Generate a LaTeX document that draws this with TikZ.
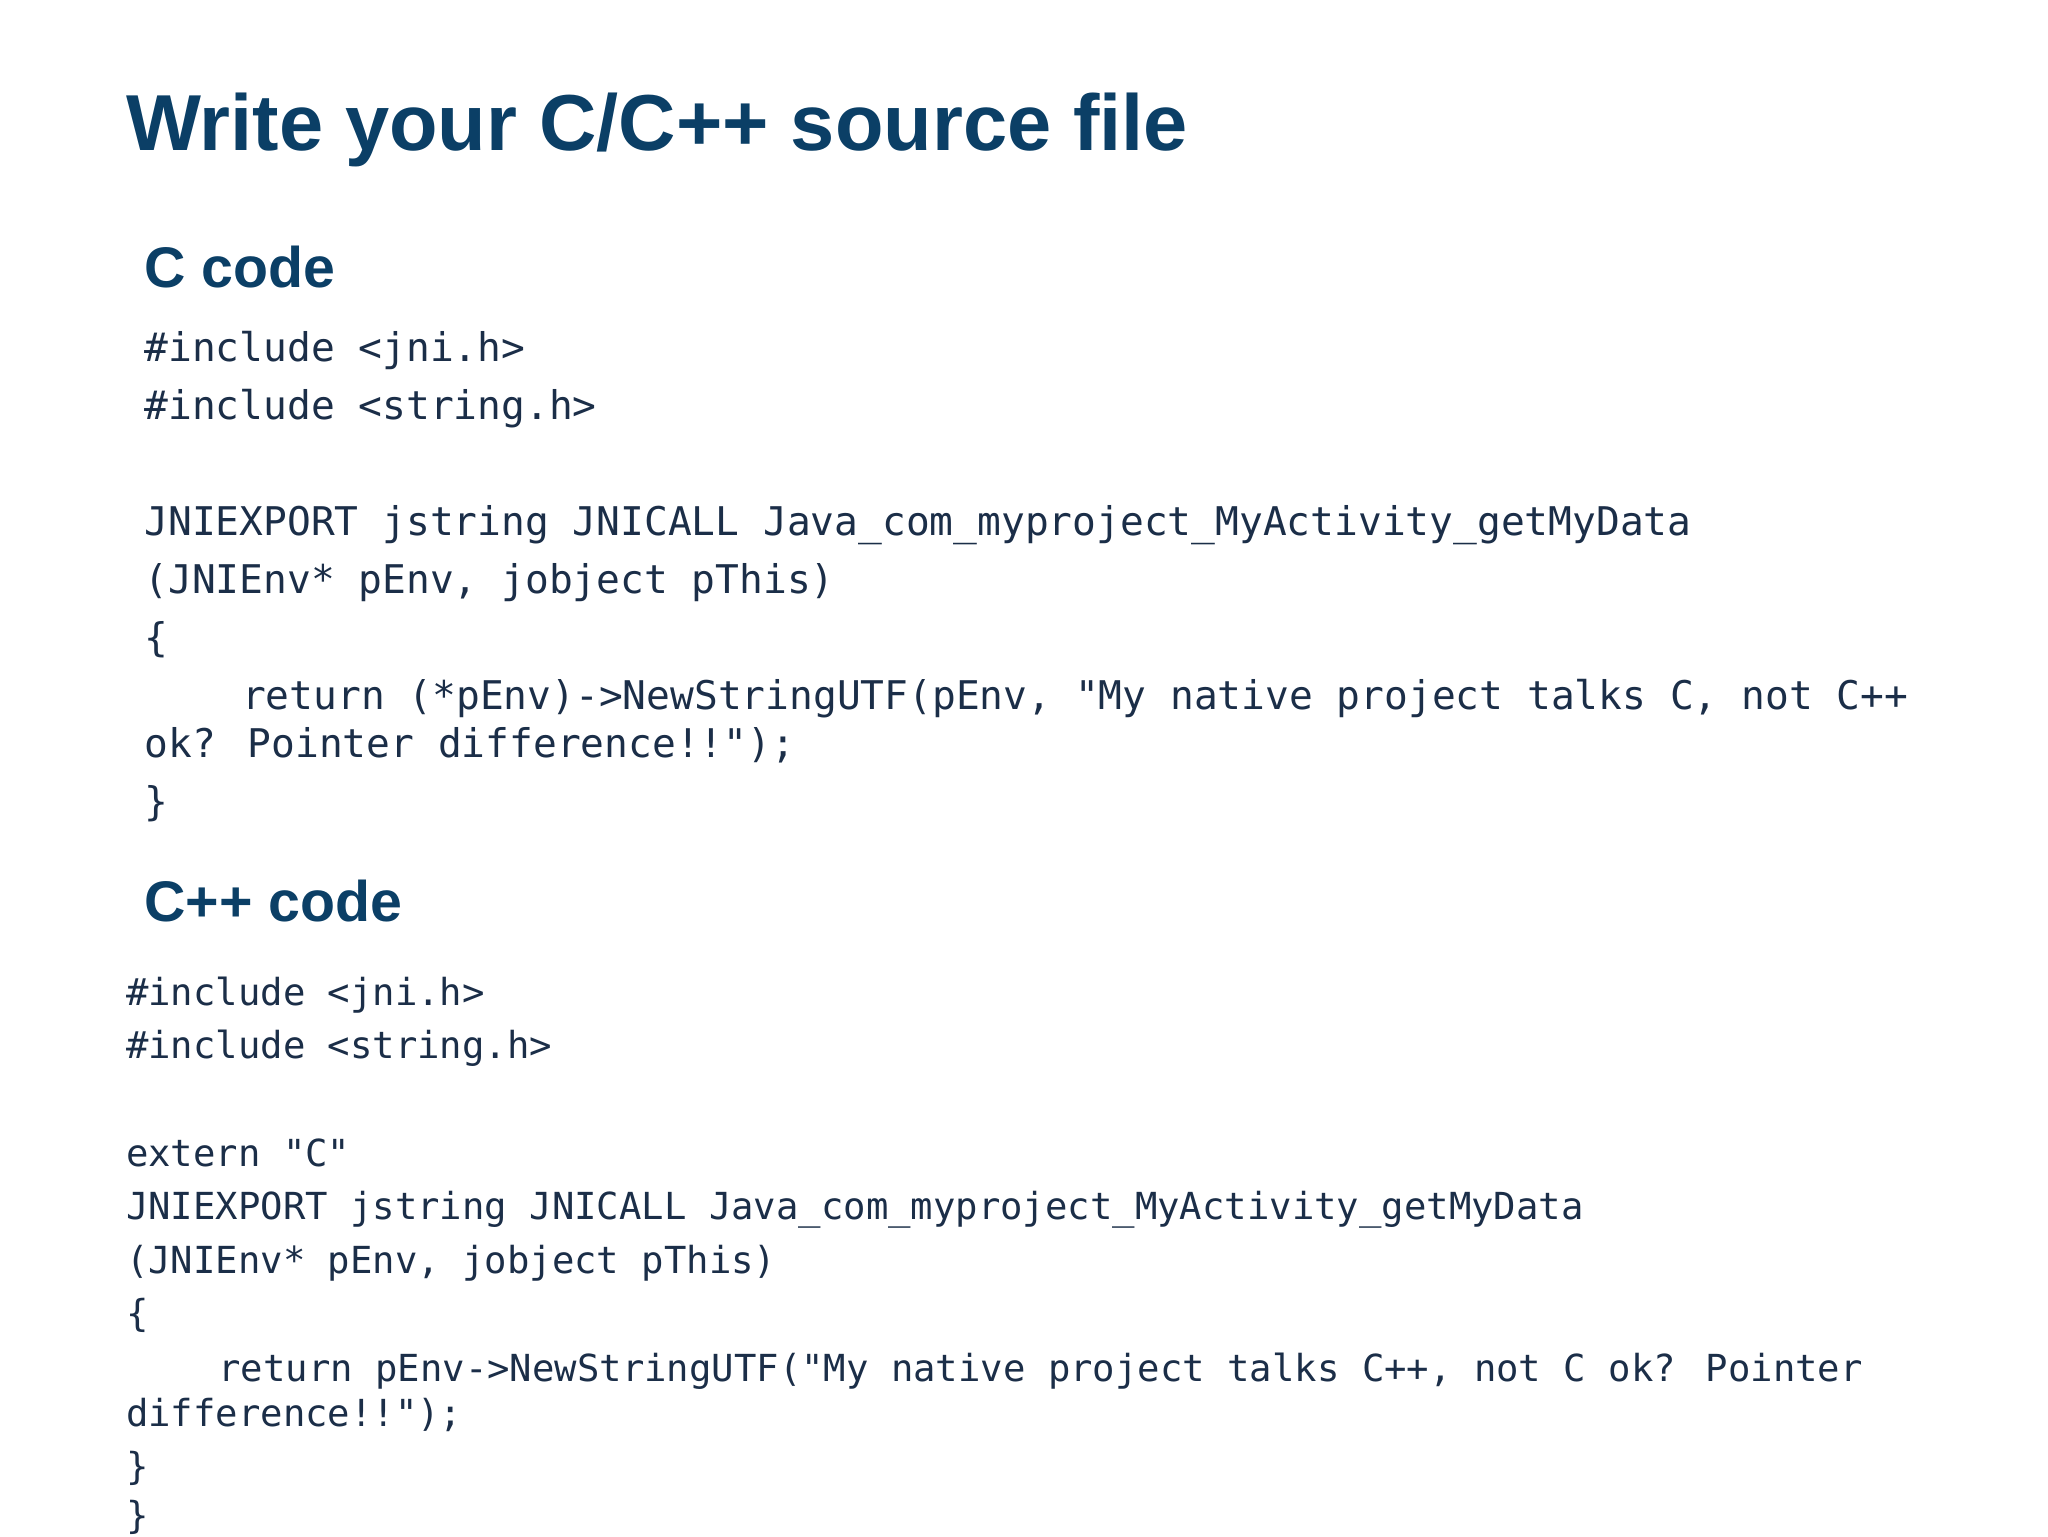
\documentclass[tikz,border=0pt]{standalone}
\usepackage{fontspec}
\setmainfont{Liberation Sans}
\newfontfamily\codefont{DejaVu Sans Mono}
\definecolor{ttl}{HTML}{0B3F66}
\definecolor{cde}{HTML}{1B2E48}
\begin{document}
\begin{tikzpicture}[x=0.013196cm,y=-0.013196cm,
  ttlstyle/.style={anchor=base west,inner sep=0,text=ttl,font=\bfseries\fontsize{22.6}{27}\selectfont},
  hdstyle/.style={anchor=base west,inner sep=0,text=ttl,font=\bfseries\fontsize{16.3}{20}\selectfont},
  ca/.style={anchor=base west,inner sep=0,text=cde,font=\codefont\fontsize{11.25}{13}\selectfont},
  cb/.style={anchor=base west,inner sep=0,text=cde,font=\codefont\fontsize{10.6}{13}\selectfont}]
\useasboundingbox[fill=white] (0,0) rectangle (1552,1164);
\node[ttlstyle] (t) at (95,114) {Write your C/C++ source file};
\node[hdstyle] (h1) at (109,218) {C code};
\node[ca] (a1) at (109,274) {\#include <jni.h>};
\node[ca] (a2) at (109,318) {\#include <string.h>};
\node[ca] (a3) at (109,406) {JNIEXPORT jstring JNICALL Java\_com\_myproject\_MyActivity\_getMyData};
\node[ca] (a4) at (109,450) {(JNIEnv* pEnv, jobject pThis)};
\node[ca] (a5) at (109,494) {\{};
\node[ca] (a6) at (183,538) {return (*pEnv)->NewStringUTF(pEnv, "My native project talks C, not C++};
\node[ca] (a7) at (109,574) {ok? Pointer difference!!");};
\node[ca] (a8) at (109,618) {\}};
\node[hdstyle] (h2) at (109,698) {C++ code};
\node[cb] (b1) at (95,762) {\#include <jni.h>};
\node[cb] (b2) at (95,802) {\#include <string.h>};
\node[cb] (b3) at (95,884) {extern "C"};
\node[cb] (b4) at (95,924) {JNIEXPORT jstring JNICALL Java\_com\_myproject\_MyActivity\_getMyData};
\node[cb] (b5) at (95,965) {(JNIEnv* pEnv, jobject pThis)};
\node[cb] (b6) at (95,1005) {\{};
\node[cb] (b7) at (165,1047) {return pEnv->NewStringUTF("My native project talks C++, not C ok? Pointer};
\node[cb] (b8) at (95,1081) {difference!!");};
\node[cb] (b9) at (95,1121) {\}};
\node[cb] (b10) at (95,1158) {\}};
\end{tikzpicture}
\end{document}
